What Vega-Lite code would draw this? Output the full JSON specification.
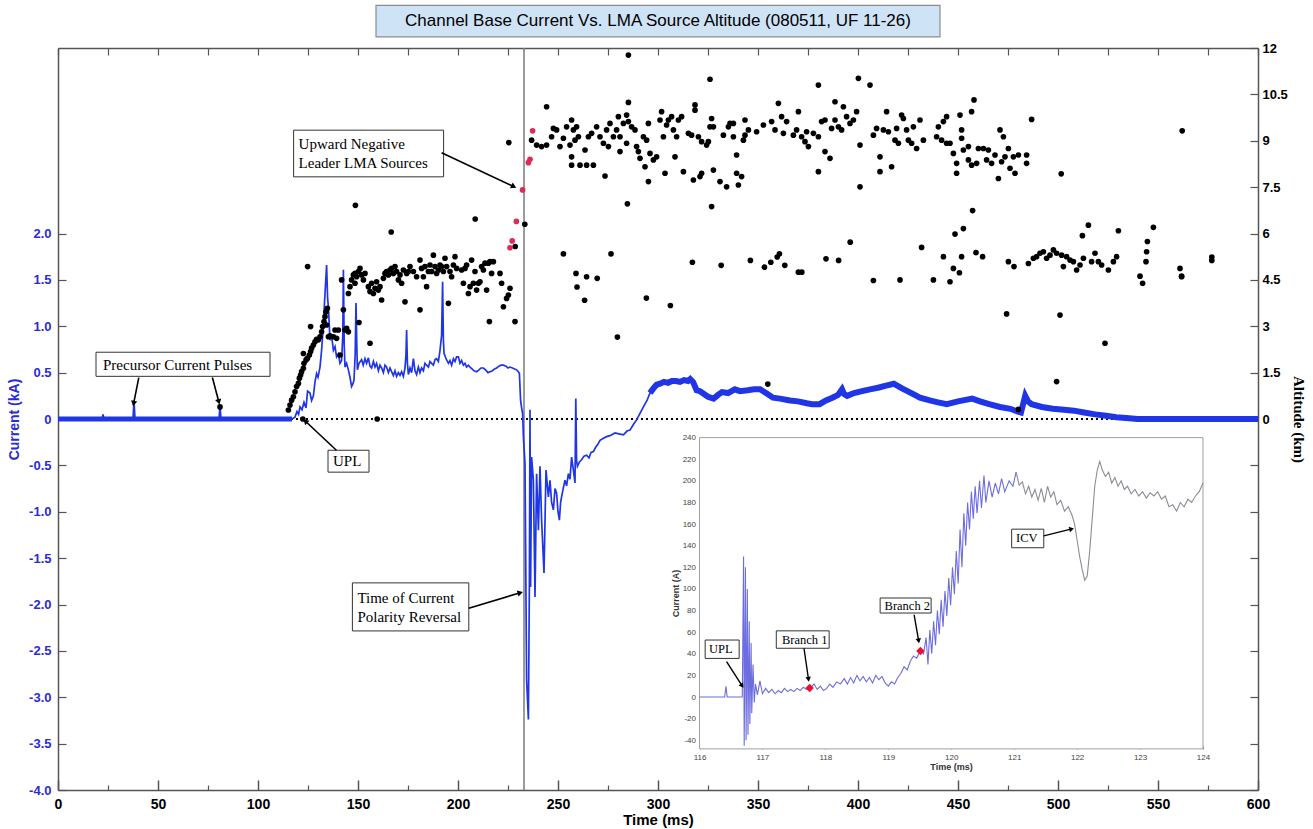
{
"$schema":"https://vega.github.io/schema/vega-lite/v6.json",
"width":1200,"height":742,
"autosize":{"type":"none"},
"padding":{"left":58,"top":48,"right":55,"bottom":39},
"background":"white",
"config":{"view":{"stroke":null},"axis":{"grid":false,"labelFlush":false}},
"datasets":{
"current":[
{"t":0,"i":0},{"t":22,"i":0},{"t":22.5,"i":0.05},{"t":23,"i":0},{"t":37.5,"i":0},{"t":38,"i":0.2},{"t":38.5,"i":0},{"t":80.5,"i":0},{"t":81,"i":0.14},{"t":81.5,"i":0},{"t":117,"i":0},
{"t":118.5,"i":0.02},{"t":119.5,"i":0.08},{"t":120.3,"i":0.05},{"t":121,"i":0.13},{"t":122,"i":0.1},{"t":123,"i":0.18},{"t":124,"i":0.12},{"t":124.8,"i":0.3},{"t":126,"i":0.28},{"t":126.8,"i":0.2},{"t":127.7,"i":0.25},{"t":128.5,"i":0.4},{"t":129.3,"i":0.49},{"t":130,"i":0.45},{"t":131,"i":0.56},{"t":131.8,"i":0.74},{"t":132.7,"i":1.03},{"t":133.5,"i":1.35},{"t":134.3,"i":1.66},{"t":134.8,"i":1.3},{"t":135.2,"i":1.21},{"t":136,"i":0.85},{"t":136.8,"i":0.9},{"t":137.7,"i":0.74},{"t":138.5,"i":0.78},{"t":139.3,"i":0.67},{"t":140.2,"i":0.7},{"t":141,"i":0.6},{"t":141.8,"i":0.63},{"t":142.4,"i":0.9},{"t":142.7,"i":1.61},{"t":143.1,"i":0.8},{"t":143.5,"i":0.56},{"t":144.3,"i":0.6},{"t":145.2,"i":0.53},{"t":146,"i":0.45},{"t":146.8,"i":0.35},{"t":147.5,"i":0.38},{"t":148,"i":0.42},{"t":148.6,"i":0.7},{"t":149,"i":1.25},{"t":149.4,"i":0.8},{"t":149.7,"i":0.53},{"t":150.5,"i":0.6},{"t":151.8,"i":0.64},{"t":152.6,"i":0.58},{"t":153.5,"i":0.65},{"t":154.3,"i":0.6},{"t":155.2,"i":0.66},{"t":156,"i":0.57},{"t":156.8,"i":0.55},{"t":157.7,"i":0.62},{"t":158.5,"i":0.56},{"t":159.3,"i":0.6},{"t":160.2,"i":0.52},{"t":161,"i":0.58},{"t":161.8,"i":0.55},{"t":162.7,"i":0.5},{"t":163.5,"i":0.58},{"t":164.3,"i":0.56},{"t":165.2,"i":0.5},{"t":166,"i":0.55},{"t":166.8,"i":0.51},{"t":167.7,"i":0.47},{"t":168.5,"i":0.52},{"t":169.3,"i":0.46},{"t":170.2,"i":0.5},{"t":171,"i":0.47},{"t":171.8,"i":0.51},{"t":172.7,"i":0.46},{"t":173.5,"i":0.55},{"t":174,"i":0.7},{"t":174.3,"i":0.96},{"t":174.7,"i":0.6},{"t":175.2,"i":0.48},{"t":176,"i":0.55},{"t":176.8,"i":0.5},{"t":177.7,"i":0.65},{"t":178.5,"i":0.52},{"t":179.3,"i":0.48},{"t":180.2,"i":0.56},{"t":181,"i":0.5},{"t":181.8,"i":0.55},{"t":182.7,"i":0.52},{"t":183.5,"i":0.6},{"t":184.3,"i":0.58},{"t":185.2,"i":0.56},{"t":186,"i":0.62},{"t":186.8,"i":0.6},{"t":187.7,"i":0.58},{"t":188.5,"i":0.64},{"t":189.3,"i":0.65},{"t":190.2,"i":0.62},{"t":191,"i":0.74},{"t":191.8,"i":0.9},{"t":192.3,"i":1.48},{"t":192.7,"i":0.85},{"t":193,"i":0.71},{"t":194,"i":0.65},{"t":195.2,"i":0.6},{"t":196,"i":0.63},{"t":196.8,"i":0.58},{"t":197.7,"i":0.65},{"t":198.5,"i":0.62},{"t":199.3,"i":0.67},{"t":200.2,"i":0.67},{"t":201,"i":0.6},{"t":201.8,"i":0.63},{"t":202.7,"i":0.58},{"t":203.5,"i":0.6},{"t":204.3,"i":0.56},{"t":205.2,"i":0.58},{"t":206,"i":0.56},{"t":207,"i":0.54},{"t":208,"i":0.52},{"t":209.3,"i":0.51},{"t":210.5,"i":0.53},{"t":211.5,"i":0.55},{"t":212.7,"i":0.55},{"t":213.8,"i":0.53},{"t":215,"i":0.5},{"t":216,"i":0.51},{"t":217.2,"i":0.52},{"t":218.3,"i":0.54},{"t":219.3,"i":0.55},{"t":220.5,"i":0.57},{"t":221.5,"i":0.58},{"t":222.7,"i":0.58},{"t":224,"i":0.57},{"t":225,"i":0.55},{"t":226,"i":0.56},{"t":227.2,"i":0.55},{"t":228.3,"i":0.54},{"t":229.3,"i":0.53},{"t":230.2,"i":0.51},{"t":230.7,"i":0.49},{"t":231.3,"i":0.2},{"t":231.8,"i":0.12},{"t":232.3,"i":0.06},{"t":232.7,"i":-0.19},{"t":233.5,"i":-0.48},{"t":234.3,"i":-2.81},{"t":235.2,"i":-3.24},{"t":235.7,"i":-1.74},{"t":236,"i":0.1},{"t":236.3,"i":-1.81},{"t":236.8,"i":-0.41},{"t":237.7,"i":-0.66},{"t":238.5,"i":-1.92},{"t":239.3,"i":-0.59},{"t":240.2,"i":-1.2},{"t":241,"i":-0.51},{"t":241.8,"i":-1.09},{"t":243,"i":-1.66},{"t":244,"i":-0.55},{"t":245.2,"i":-0.84},{"t":246,"i":-0.66},{"t":246.8,"i":-0.9},{"t":247.7,"i":-0.98},{"t":248.5,"i":-0.75},{"t":249.3,"i":-0.8},{"t":250,"i":-1.0},{"t":250.7,"i":-1.09},{"t":251.3,"i":-0.9},{"t":251.8,"i":-0.84},{"t":252.6,"i":-0.75},{"t":253.5,"i":-0.66},{"t":254.3,"i":-0.72},{"t":255.2,"i":-0.59},{"t":256,"i":-0.65},{"t":256.8,"i":-0.41},{"t":257.7,"i":-0.55},{"t":258.5,"i":-0.69},{"t":258.9,"i":0.22},{"t":259.3,"i":-0.45},{"t":259.7,"i":-0.51},{"t":260.8,"i":-0.46},{"t":261.8,"i":-0.44},{"t":263,"i":-0.4},{"t":264.3,"i":-0.39},{"t":265.5,"i":-0.42},{"t":266.5,"i":-0.36},{"t":267.7,"i":-0.35},{"t":269,"i":-0.3},{"t":270,"i":-0.27},{"t":271,"i":-0.23},{"t":272.5,"i":-0.21},{"t":274.3,"i":-0.19},{"t":276,"i":-0.18},{"t":278.5,"i":-0.15},{"t":280.5,"i":-0.16},{"t":282.7,"i":-0.17},{"t":284.5,"i":-0.13},{"t":286,"i":-0.12},{"t":287.7,"i":-0.06},{"t":289.3,"i":-0.01},{"t":291,"i":0.06},{"t":292.7,"i":0.13},{"t":294.5,"i":0.2},{"t":296,"i":0.28},{"t":297.7,"i":0.33},{"t":299.3,"i":0.37},{"t":301,"i":0.38},{"t":303,"i":0.4},{"t":305,"i":0.39},{"t":307,"i":0.41},{"t":309,"i":0.41},{"t":311,"i":0.4},{"t":313,"i":0.42},{"t":315,"i":0.41},{"t":316.1,"i":0.43},{"t":317.5,"i":0.4},{"t":319.3,"i":0.31},{"t":321,"i":0.3},{"t":323,"i":0.27},{"t":325,"i":0.24},{"t":327.8,"i":0.22},{"t":330,"i":0.26},{"t":332,"i":0.29},{"t":335,"i":0.28},{"t":338.4,"i":0.32},{"t":341,"i":0.3},{"t":344.8,"i":0.31},{"t":348,"i":0.32},{"t":351.1,"i":0.32},{"t":354,"i":0.28},{"t":357.5,"i":0.23},{"t":361,"i":0.22},{"t":366,"i":0.2},{"t":370,"i":0.19},{"t":374.4,"i":0.17},{"t":377,"i":0.16},{"t":380.8,"i":0.16},{"t":384,"i":0.2},{"t":387.2,"i":0.23},{"t":390,"i":0.26},{"t":392,"i":0.32},{"t":393,"i":0.27},{"t":394.6,"i":0.25},{"t":398,"i":0.28},{"t":402,"i":0.3},{"t":406,"i":0.32},{"t":410.5,"i":0.34},{"t":414,"i":0.36},{"t":417.9,"i":0.38},{"t":422,"i":0.33},{"t":427.4,"i":0.27},{"t":431,"i":0.23},{"t":435.9,"i":0.2},{"t":440,"i":0.18},{"t":444.4,"i":0.16},{"t":450,"i":0.19},{"t":457.1,"i":0.22},{"t":461,"i":0.19},{"t":465.6,"i":0.16},{"t":471,"i":0.13},{"t":476.2,"i":0.11},{"t":480,"i":0.08},{"t":481.5,"i":0.07},{"t":483.6,"i":0.25},{"t":485,"i":0.19},{"t":486.8,"i":0.16},{"t":492,"i":0.13},{"t":497.4,"i":0.11},{"t":503,"i":0.1},{"t":508,"i":0.09},{"t":513,"i":0.07},{"t":518.6,"i":0.05},{"t":524,"i":0.035},{"t":529.2,"i":0.02},{"t":534,"i":0.01},{"t":539.8,"i":0},{"t":600,"i":0}
],
"lma":[
{"t":81,"a":0.39},{"t":122.4,"a":0},{"t":159.6,"a":0},
{"t":115.2,"a":0.29},{"t":116,"a":0.45},{"t":116.8,"a":0.61},{"t":117.7,"a":0.72},{"t":118.5,"a":0.88},{"t":119.3,"a":1.05},{"t":120.2,"a":1.15},{"t":120.7,"a":1.32},{"t":121.3,"a":1.42},{"t":121.8,"a":1.53},{"t":122.7,"a":1.64},{"t":123,"a":1.8},{"t":124,"a":1.91},{"t":124.7,"a":1.96},{"t":125.7,"a":2.07},{"t":126.3,"a":2.18},{"t":126.8,"a":2.29},{"t":127.7,"a":2.39},{"t":128.5,"a":2.5},{"t":129.3,"a":2.58},{"t":130.2,"a":2.56},{"t":131,"a":2.66},{"t":131.8,"a":2.82},{"t":132.3,"a":2.99},{"t":133,"a":3.15},{"t":133.5,"a":3.31},{"t":134,"a":3.47},{"t":134.7,"a":3.58},{"t":122.7,"a":2.12},{"t":126.3,"a":2.99},{"t":124.8,"a":4.93},{"t":134.3,"a":3.04},{"t":135.2,"a":2.66},{"t":136,"a":2.69},{"t":137.7,"a":2.66},{"t":139.3,"a":2.61},{"t":138.5,"a":2.88},{"t":140.2,"a":2.88},{"t":141,"a":2.07},{"t":141.8,"a":4.5},{"t":142.7,"a":3.53},{"t":143.5,"a":2.88},{"t":144.3,"a":2.93},{"t":145.2,"a":2.82},{"t":146,"a":4.28},{"t":145.2,"a":4.06},{"t":146.8,"a":4.5},{"t":147.7,"a":4.66},{"t":148.5,"a":4.71},{"t":149.3,"a":4.6},{"t":150.2,"a":4.77},{"t":151,"a":4.87},{"t":151.8,"a":4.66},{"t":152.7,"a":4.5},{"t":148.5,"a":4.39},{"t":150.5,"a":3.12},{"t":156,"a":2.45},{"t":153.5,"a":4.71},{"t":155.2,"a":4.28},{"t":156,"a":4.12},{"t":156.8,"a":4.39},{"t":157.7,"a":4.06},{"t":158.5,"a":4.23},{"t":159.3,"a":4.44},{"t":160.2,"a":4.17},{"t":161,"a":4.28},{"t":161.8,"a":3.85},{"t":162.7,"a":4.55},{"t":163.5,"a":4.71},{"t":164.3,"a":4.77},{"t":165.2,"a":4.66},{"t":166,"a":4.82},{"t":166.8,"a":4.87},{"t":167.7,"a":4.71},{"t":168.5,"a":4.93},{"t":169.3,"a":4.77},{"t":170.2,"a":4.5},{"t":171,"a":4.66},{"t":171.8,"a":4.39},{"t":172.7,"a":4.82},{"t":173.5,"a":3.79},{"t":174.3,"a":4.71},{"t":175.2,"a":4.77},{"t":176,"a":4.93},{"t":177.7,"a":4.77},{"t":179.3,"a":4.6},{"t":181,"a":5.14},{"t":181,"a":3.53},{"t":181.8,"a":4.87},{"t":182.7,"a":4.6},{"t":183.5,"a":4.93},{"t":184.3,"a":4.28},{"t":185.2,"a":4.77},{"t":186,"a":4.98},{"t":186.8,"a":4.77},{"t":187.7,"a":5.3},{"t":188.5,"a":4.93},{"t":189.3,"a":4.71},{"t":190.2,"a":4.82},{"t":191,"a":4.98},{"t":191.8,"a":4.93},{"t":192.7,"a":4.77},{"t":193.5,"a":5.2},{"t":194.3,"a":4.93},{"t":195.2,"a":3.74},{"t":196,"a":4.77},{"t":196.8,"a":4.6},{"t":197.7,"a":4.98},{"t":198.5,"a":5.25},{"t":199.3,"a":4.87},{"t":201.8,"a":4.82},{"t":202.7,"a":4.39},{"t":203.5,"a":4.87},{"t":204.3,"a":4.98},{"t":205.2,"a":4.06},{"t":206,"a":4.28},{"t":206.8,"a":5.14},{"t":207.7,"a":4.39},{"t":208.5,"a":4.77},{"t":209.3,"a":4.17},{"t":210.2,"a":4.39},{"t":211,"a":4.44},{"t":211.8,"a":4.93},{"t":212.7,"a":4.82},{"t":213.5,"a":5.04},{"t":214.3,"a":4.17},{"t":215.2,"a":5.04},{"t":216,"a":5.09},{"t":215.7,"a":3.15},{"t":216.8,"a":4.71},{"t":217.7,"a":5.09},{"t":221,"a":4.71},{"t":221.8,"a":4.39},{"t":222.7,"a":3.63},{"t":224.3,"a":3.9},{"t":225.2,"a":4.01},{"t":226,"a":4.23},{"t":228.5,"a":3.15},
{"t":148.7,"a":6.91},{"t":166.6,"a":6.05},{"t":208.6,"a":6.47},{"t":225.4,"a":8.94},{"t":228.6,"a":5.58},{"t":233.4,"a":6.3},
{"t":252.7,"a":5.34},{"t":259,"a":4.71},{"t":259.5,"a":4.27},{"t":263.3,"a":3.84},{"t":264.3,"a":4.6},{"t":269.6,"a":4.55},{"t":276.5,"a":5.34},{"t":279.7,"a":2.65},{"t":284.7,"a":6.96},{"t":294.2,"a":3.91},
{"t":285.2,"a":11.77},{"t":244.3,"a":10.1},{"t":326,"a":10.99},{"t":285.2,"a":10.24},{"t":236.8,"a":9.02},{"t":239.3,"a":8.86},{"t":241.8,"a":8.81},{"t":244.3,"a":8.86},{"t":246.8,"a":9.13},{"t":247.7,"a":9.4},{"t":249.3,"a":9.35},{"t":251,"a":8.81},{"t":252.7,"a":9.08},{"t":254.3,"a":9.45},{"t":256.8,"a":9.67},{"t":257.7,"a":9.35},{"t":259.3,"a":9.45},{"t":260.2,"a":9.13},{"t":258.5,"a":9.02},{"t":256,"a":8.86},{"t":256.8,"a":8.48},{"t":256.8,"a":8.21},{"t":261,"a":8.21},{"t":264.3,"a":8.21},{"t":267.7,"a":8.21},{"t":263.5,"a":8.7},{"t":265.2,"a":9.13},{"t":266.8,"a":9.24},{"t":269.3,"a":9.45},{"t":271,"a":9.13},{"t":272.7,"a":8.92},{"t":273.5,"a":7.86},{"t":275.2,"a":8.81},{"t":274.3,"a":9.35},{"t":276,"a":9.56},{"t":277.7,"a":9.13},{"t":279.3,"a":9.35},{"t":280.2,"a":9.78},{"t":281,"a":9.13},{"t":281,"a":8.65},{"t":282.7,"a":9.56},{"t":284.3,"a":8.92},{"t":284.3,"a":9.83},{"t":285.2,"a":9.62},{"t":286.8,"a":9.45},{"t":288.5,"a":9.35},{"t":289.3,"a":8.81},{"t":290.2,"a":8.65},{"t":291,"a":8.43},{"t":292.7,"a":9.13},{"t":293.5,"a":8.16},{"t":294.3,"a":9.02},{"t":295.2,"a":7.68},{"t":295.2,"a":9.56},{"t":296,"a":8.59},{"t":297.7,"a":8.38},{"t":299.3,"a":8.48},{"t":301,"a":9.67},{"t":301.8,"a":9.94},{"t":302.7,"a":9.13},{"t":303.5,"a":7.95},{"t":304.3,"a":9.51},{"t":305.2,"a":9.67},{"t":306.8,"a":9.78},{"t":307.7,"a":9.35},{"t":308.5,"a":8.48},{"t":309.3,"a":9.13},{"t":310.2,"a":9.67},{"t":311.8,"a":9.78},{"t":312.7,"a":8},{"t":315.2,"a":9.24},{"t":316.8,"a":9.18},{"t":317.7,"a":7.73},{"t":318.5,"a":10.16},{"t":318.5,"a":9.99},{"t":320.2,"a":9.13},{"t":321,"a":7.84},{"t":321.8,"a":7.95},{"t":321.8,"a":8.97},{"t":324.3,"a":8.86},{"t":325.2,"a":8.97},{"t":326,"a":9.45},{"t":326.8,"a":9.72},{"t":327.7,"a":9.45},{"t":327.7,"a":8.05},{"t":326.8,"a":6.87},{"t":331,"a":7.68},{"t":332.7,"a":9.18},{"t":334.3,"a":7.51},{"t":335.2,"a":9.45},{"t":336,"a":9.56},{"t":337.7,"a":9.56},{"t":337.7,"a":9.13},{"t":339.3,"a":8.54},{"t":339.3,"a":7.95},{"t":340.2,"a":7.57},{"t":341.8,"a":7.84},{"t":342.7,"a":9.02},{"t":343.5,"a":9.18},{"t":343.5,"a":9.67},{"t":345.2,"a":9.35},{"t":349.3,"a":9.29},{"t":352.7,"a":9.51},{"t":356.8,"a":9.62},{"t":358.5,"a":9.35},{"t":360.2,"a":10.21},{"t":361.8,"a":9.78},{"t":362.7,"a":9.24},{"t":364.3,"a":9.62},
{"t":367.7,"a":9.18},{"t":370.2,"a":9.94},{"t":369.3,"a":9.35},{"t":371.8,"a":9.13},{"t":373.5,"a":8.97},{"t":375.2,"a":8.81},{"t":374.3,"a":9.29},{"t":377.7,"a":9.24},{"t":380.2,"a":10.8},{"t":380.2,"a":8},{"t":380.2,"a":9.13},{"t":381.8,"a":9.62},{"t":383.5,"a":9.67},{"t":383.5,"a":8.65},{"t":386,"a":8.43},{"t":386.8,"a":9.4},{"t":388.5,"a":10.26},{"t":388.5,"a":9.67},{"t":390.2,"a":9.45},{"t":391.8,"a":9.35},{"t":392.7,"a":10.1},{"t":394.3,"a":9.78},{"t":396,"a":9.56},{"t":397.7,"a":9.67},{"t":399.3,"a":9.94},{"t":400.2,"a":11.02},{"t":401,"a":8.86},{"t":401,"a":7.51},{"t":406,"a":10.8},{"t":407.7,"a":9.18},{"t":409.3,"a":9.4},{"t":411,"a":8.48},{"t":411,"a":8},{"t":412.7,"a":9.35},{"t":414.3,"a":9.94},{"t":415.2,"a":9.29},{"t":416.8,"a":8.16},{"t":418.5,"a":9.02},{"t":419.3,"a":9.4},{"t":420.2,"a":8.92},{"t":421.8,"a":9.83},{"t":422.7,"a":9.72},{"t":424.3,"a":9.35},{"t":425.2,"a":9.02},{"t":426.8,"a":8.92},{"t":427.7,"a":9.45},{"t":429.3,"a":8.75},{"t":431,"a":9.67},{"t":432.7,"a":9.02},{"t":439.3,"a":9.13},{"t":440.2,"a":9.45},{"t":441.8,"a":9.02},{"t":442.7,"a":9.62},{"t":444.3,"a":9.78},{"t":444.3,"a":8.92},{"t":446,"a":8.92},{"t":447.7,"a":8.59},{"t":449.3,"a":7.95},{"t":449.3,"a":8.27},{"t":451,"a":9.83},{"t":451.8,"a":9.35},{"t":451.8,"a":9.08},{"t":452.7,"a":8.7},{"t":455.2,"a":8.81},{"t":455.2,"a":8.38},{"t":456.8,"a":9.94},{"t":458,"a":10.32},{"t":456.8,"a":8.21},{"t":459.3,"a":8.27},{"t":460.2,"a":8.75},{"t":462.7,"a":8.75},{"t":464.3,"a":8.38},{"t":465.2,"a":8.7},{"t":466.8,"a":8.27},{"t":468.5,"a":8.54},{"t":470.2,"a":7.78},{"t":471,"a":9.35},{"t":471.8,"a":8.32},{"t":472.7,"a":9.13},{"t":473.5,"a":8.48},{"t":475.2,"a":8.75},{"t":476,"a":8.11},{"t":477.7,"a":8.48},{"t":478.5,"a":7.95},{"t":480.2,"a":8.54},{"t":484.3,"a":8.54},{"t":484.3,"a":8.27},{"t":486.8,"a":9.69},
{"t":306.2,"a":3.67},{"t":317.2,"a":5.07},{"t":331.6,"a":4.97},{"t":346.2,"a":5.13},{"t":353.2,"a":4.91},{"t":356.4,"a":5.07},{"t":359.6,"a":5.24},{"t":360.7,"a":5.34},{"t":363.4,"a":4.97},{"t":370.2,"a":4.75},{"t":371.9,"a":4.75},{"t":384,"a":5.18},{"t":390.3,"a":5.13},{"t":396.1,"a":5.72},{"t":407.7,"a":4.48},{"t":354.9,"a":1.13},{"t":501.6,"a":7.93},{"t":562.1,"a":9.32},{"t":576.9,"a":5.24},{"t":576.9,"a":5.13},
{"t":421,"a":4.5},{"t":431.8,"a":5.55},{"t":437.7,"a":4.5},{"t":442.7,"a":5.25},{"t":446,"a":4.44},{"t":447.7,"a":4.87},{"t":448.5,"a":5.98},{"t":450.7,"a":4.73},{"t":451.8,"a":5.25},{"t":452.7,"a":6.16},{"t":457.3,"a":6.74},{"t":459,"a":5.38},{"t":462.3,"a":5.25},{"t":474.3,"a":3.4},{"t":475.2,"a":5.09},{"t":478,"a":4.93},{"t":480.2,"a":0.31},{"t":485.2,"a":5.03},{"t":487.7,"a":5.2},{"t":489.3,"a":5.25},{"t":491,"a":5.36},{"t":492.7,"a":5.41},{"t":494.3,"a":5.2},{"t":496,"a":5.3},{"t":497.7,"a":5.47},{"t":499.3,"a":5.36},{"t":499.3,"a":1.21},{"t":501,"a":3.36},{"t":501.8,"a":5.3},{"t":502.7,"a":4.93},{"t":504.3,"a":5.25},{"t":506,"a":5.14},{"t":507.7,"a":5.09},{"t":509.3,"a":4.82},{"t":511,"a":4.98},{"t":512.7,"a":5.2},{"t":512.2,"a":5.93},{"t":515.2,"a":6.27},{"t":516.8,"a":5.09},{"t":518.5,"a":5.36},{"t":520.2,"a":5.09},{"t":521.8,"a":4.98},{"t":523.5,"a":2.45},{"t":525.2,"a":4.82},{"t":527.7,"a":5.09},{"t":529.3,"a":5.25},{"t":530.2,"a":6.09},{"t":541,"a":4.62},{"t":542.3,"a":4.39},{"t":544,"a":5.09},{"t":544.3,"a":5.41},{"t":544.7,"a":5.74},{"t":547.7,"a":6.2},{"t":561,"a":4.87},{"t":561.8,"a":4.6},{"t":561.8,"a":4.62}
],
"lma_red":[
{"t":226,"a":5.54},{"t":227.1,"a":5.76},{"t":229.2,"a":6.39},{"t":232.3,"a":7.41},{"t":235.2,"a":8.29},{"t":236,"a":8.4},{"t":237.3,"a":9.32}
],
"inset":[
{"t":116,"i":0},{"t":116.4,"i":0},{"t":116.42,"i":10},{"t":116.44,"i":0},{"t":116.68,"i":0},{"t":116.7,"i":130},{"t":116.71,"i":-45},{"t":116.73,"i":120},{"t":116.74,"i":-40},{"t":116.76,"i":100},{"t":116.77,"i":-35},{"t":116.79,"i":70},{"t":116.8,"i":-25},{"t":116.82,"i":50},{"t":116.83,"i":-15},{"t":116.85,"i":30},{"t":116.87,"i":-5},{"t":116.89,"i":12},{"t":116.92,"i":2},{"t":116.96,"i":15},{"t":117,"i":3},{"t":117.05,"i":8},{"t":117.1,"i":4},{"t":117.15,"i":7},{"t":117.2,"i":3},{"t":117.25,"i":6},{"t":117.3,"i":4},{"t":117.35,"i":8},{"t":117.4,"i":5},{"t":117.45,"i":7},{"t":117.5,"i":5},{"t":117.55,"i":8},{"t":117.6,"i":6},{"t":117.65,"i":9},{"t":117.7,"i":7},{"t":117.76,"i":8},{"t":117.82,"i":12},{"t":117.87,"i":7},{"t":117.92,"i":10},{"t":117.97,"i":6},{"t":118.02,"i":8},{"t":118.07,"i":12},{"t":118.12,"i":9},{"t":118.18,"i":14},{"t":118.24,"i":12},{"t":118.3,"i":17},{"t":118.35,"i":12},{"t":118.4,"i":18},{"t":118.45,"i":13},{"t":118.5,"i":20},{"t":118.55,"i":15},{"t":118.6,"i":19},{"t":118.65,"i":14},{"t":118.7,"i":18},{"t":118.75,"i":13},{"t":118.8,"i":20},{"t":118.85,"i":16},{"t":118.9,"i":19},{"t":118.95,"i":13},{"t":119,"i":10},{"t":119.05,"i":14},{"t":119.1,"i":12},{"t":119.15,"i":18},{"t":119.2,"i":22},{"t":119.25,"i":28},{"t":119.3,"i":25},{"t":119.35,"i":33},{"t":119.4,"i":38},{"t":119.45,"i":36},{"t":119.51,"i":43},{"t":119.56,"i":40},{"t":119.6,"i":55},{"t":119.63,"i":30},{"t":119.66,"i":62},{"t":119.69,"i":40},{"t":119.72,"i":70},{"t":119.75,"i":48},{"t":119.78,"i":80},{"t":119.81,"i":58},{"t":119.84,"i":90},{"t":119.87,"i":65},{"t":119.9,"i":98},{"t":119.93,"i":75},{"t":119.96,"i":110},{"t":119.99,"i":85},{"t":120.02,"i":120},{"t":120.05,"i":95},{"t":120.08,"i":135},{"t":120.11,"i":105},{"t":120.14,"i":155},{"t":120.17,"i":120},{"t":120.2,"i":170},{"t":120.23,"i":140},{"t":120.26,"i":180},{"t":120.29,"i":155},{"t":120.32,"i":190},{"t":120.35,"i":165},{"t":120.38,"i":195},{"t":120.41,"i":170},{"t":120.45,"i":200},{"t":120.48,"i":175},{"t":120.52,"i":205},{"t":120.55,"i":180},{"t":120.6,"i":200},{"t":120.65,"i":185},{"t":120.7,"i":198},{"t":120.75,"i":188},{"t":120.8,"i":202},{"t":120.85,"i":190},{"t":120.92,"i":200},{"t":120.98,"i":195},{"t":121.03,"i":208},{"t":121.08,"i":196},{"t":121.13,"i":199},{"t":121.18,"i":188},{"t":121.23,"i":195},{"t":121.28,"i":185},{"t":121.33,"i":192},{"t":121.38,"i":182},{"t":121.43,"i":193},{"t":121.48,"i":180},{"t":121.53,"i":195},{"t":121.58,"i":185},{"t":121.63,"i":190},{"t":121.68,"i":178},{"t":121.74,"i":182},{"t":121.8,"i":172},{"t":121.86,"i":176},{"t":121.92,"i":168},{"t":121.96,"i":160},{"t":122,"i":145},{"t":122.04,"i":130},{"t":122.08,"i":118},{"t":122.12,"i":108},{"t":122.16,"i":112},{"t":122.2,"i":135},{"t":122.24,"i":165},{"t":122.28,"i":195},{"t":122.32,"i":210},{"t":122.36,"i":218},{"t":122.4,"i":210},{"t":122.45,"i":204},{"t":122.5,"i":208},{"t":122.55,"i":198},{"t":122.6,"i":203},{"t":122.65,"i":195},{"t":122.7,"i":200},{"t":122.75,"i":192},{"t":122.8,"i":195},{"t":122.86,"i":188},{"t":122.92,"i":192},{"t":122.98,"i":186},{"t":123.04,"i":190},{"t":123.1,"i":184},{"t":123.16,"i":189},{"t":123.22,"i":186},{"t":123.28,"i":190},{"t":123.34,"i":183},{"t":123.4,"i":186},{"t":123.46,"i":176},{"t":123.52,"i":178},{"t":123.58,"i":172},{"t":123.64,"i":180},{"t":123.7,"i":176},{"t":123.76,"i":183},{"t":123.82,"i":180},{"t":123.88,"i":186},{"t":123.94,"i":190},{"t":124,"i":198}
],
"inset_marks":[{"label":"Branch 1","t":117.75,"i":8.3},{"label":"Branch 2","t":119.51,"i":42.6}],
"boxes":[{"t0":19,"t1":106,"i0":0.46,"i1":0.72},{"t0":117.8,"t1":192.8,"i0":2.611,"i1":3.114},{"t0":135,"t1":155.5,"i0":-0.573,"i1":-0.337},{"t0":147.2,"t1":205.4,"i0":-2.285,"i1":-1.767}],
"texts":[{"label":"Precursor Current Pulses","t":22.5,"i":0.584},{"label":"Upward Negative","t":120.3,"i":2.97},{"label":"Leader LMA Sources","t":120.3,"i":2.756},{"label":"UPL","t":137.5,"i":-0.457},{"label":"Time of Current","t":149.7,"i":-1.93},{"label":"Polarity Reversal","t":149.7,"i":-2.14}],
"arrows":[{"t0":40.4,"i0":0.447,"t1":37.9,"i1":0.176,"dir":-168.6},{"t0":77.2,"i0":0.447,"t1":80.3,"i1":0.194,"dir":165.1},{"t0":191.8,"i0":2.871,"t1":227.5,"i1":2.51,"dir":115.1},{"t0":139.2,"i0":-0.337,"t1":124,"i1":-0.03,"dir":-47.1},{"t0":205.4,"i0":-2.04,"t1":230.7,"i1":-1.876,"dir":73.4}],
"inset_boxes":[{"t0":116.09,"t1":116.63,"i0":35.7,"i1":52.7},{"t0":117.22,"t1":118.06,"i0":45.1,"i1":61.2},{"t0":118.87,"t1":119.68,"i0":77.7,"i1":91.6},{"t0":120.96,"t1":121.47,"i0":138.1,"i1":155.3}],
"inset_texts":[{"label":"UPL","t":116.15,"i":44},{"label":"Branch 1","t":117.31,"i":53.1},{"label":"Branch 2","t":118.94,"i":84.6},{"label":"ICV","t":121.03,"i":146.7}],
"inset_arrows":[{"t0":116.43,"i0":32.7,"t1":116.67,"i1":10.9,"dir":145.6},{"t0":117.66,"i0":45.1,"t1":117.73,"i1":17.1,"dir":172.1},{"t0":119.41,"i0":76.1,"t1":119.48,"i1":52.7,"dir":170.5},{"t0":121.47,"i0":149.1,"t1":121.9,"i1":155.3,"dir":76.4}]
},
"resolve":{"scale":{"x":"independent","y":"independent"},"axis":{"x":"independent","y":"independent"}},
"layer":[
{"data":{"values":[{"title":"Channel Base Current Vs. LMA Source Altitude (080511, UF 11-26)"}]},
 "mark":{"type":"rect","fill":"#cfe3f6","stroke":"#8c8c8c","strokeWidth":1.2,"clip":false},
 "encoding":{"x":{"datum":159,"type":"quantitative","scale":{"domain":[0,600],"nice":false,"zero":false},"axis":null},"x2":{"datum":441},
  "y":{"datum":4.12,"type":"quantitative","scale":{"domain":[-4,4],"nice":false,"zero":false},"axis":null},"y2":{"datum":4.46}}},
{"data":{"values":[{"title":"Channel Base Current Vs. LMA Source Altitude (080511, UF 11-26)"}]},
 "mark":{"type":"text","font":"Liberation Sans","fontSize":17,"color":"black","baseline":"middle","align":"center","clip":false},
 "encoding":{"x":{"datum":300,"type":"quantitative","scale":{"domain":[0,600],"nice":false,"zero":false},"axis":null},
  "y":{"datum":4.29,"type":"quantitative","scale":{"domain":[-4,4],"nice":false,"zero":false},"axis":null},"text":{"field":"title"}}},
{"data":{"values":[{"t":233}]},
 "mark":{"type":"rule","color":"#7a7a7a","strokeWidth":1.5},
 "encoding":{"x":{"field":"t","type":"quantitative","scale":{"domain":[0,600],"nice":false,"zero":false},"axis":null}}},
{"data":{"values":[{"i":0}]},
 "mark":{"type":"rule","color":"black","strokeWidth":2.2,"strokeDash":[2,3]},
 "encoding":{"y":{"field":"i","type":"quantitative","scale":{"domain":[-4,4],"nice":false,"zero":false},"axis":null}}},
{"data":{"name":"current"},
 "mark":{"type":"line","color":"#1f35e6","strokeWidth":1.7},
 "encoding":{
  "x":{"field":"t","type":"quantitative","scale":{"domain":[0,600],"nice":false,"zero":false},
   "axis":{"orient":"bottom","values":[0,50,100,150,200,250,300,350,400,450,500,550,600],"tickSize":-10,"tickColor":"#555","tickWidth":1.5,"domainColor":"#555","domainWidth":1.5,"labelFont":"Liberation Sans Narrow, Liberation Sans","labelFontSize":14,"labelFontWeight":"bold","labelColor":"black","labelPadding":17,"title":"Time (ms)","titleFont":"Liberation Sans Narrow, Liberation Sans","titleFontSize":15,"titleFontWeight":"bold","titleColor":"black","titlePadding":1}},
  "y":{"field":"i","type":"quantitative","scale":{"domain":[-4,4],"nice":false,"zero":false},
   "axis":{"orient":"left","values":[-4,-3.5,-3,-2.5,-2,-1.5,-1,-0.5,0,0.5,1,1.5,2],"labelExpr":"datum.value == 0 ? '0' : replace(format(datum.value, '.1f'), '\u2212', '-')","tickSize":-8,"tickColor":"#555","tickWidth":1.2,"domainColor":"#555","domainWidth":1.5,"labelFont":"Liberation Sans Narrow, Liberation Sans","labelFontSize":13,"labelFontWeight":"bold","labelColor":"#2b2bd6","labelPadding":15,"title":"Current (kA)","titleFont":"Liberation Sans","titleFontSize":14,"titleFontWeight":"bold","titleColor":"#2b2bd6","titlePadding":7}}}},
{"data":{"name":"current"},
 "transform":[{"filter":"datum.t <= 117 && datum.i == 0"}],
 "mark":{"type":"line","color":"#1f35e6","strokeWidth":5},
 "encoding":{"x":{"field":"t","type":"quantitative","scale":{"domain":[0,600],"nice":false,"zero":false},"axis":null},
  "y":{"field":"i","type":"quantitative","scale":{"domain":[-4,4],"nice":false,"zero":false},"axis":null}}},
{"data":{"name":"current"},
 "transform":[{"filter":"datum.t >= 296"}],
 "mark":{"type":"line","color":"#1f35e6","strokeWidth":6},
 "encoding":{"x":{"field":"t","type":"quantitative","scale":{"domain":[0,600],"nice":false,"zero":false},"axis":null},
  "y":{"field":"i","type":"quantitative","scale":{"domain":[-4,4],"nice":false,"zero":false},"axis":null}}},
{"data":{"name":"lma"},
 "mark":{"type":"circle","color":"black","size":32,"opacity":1},
 "encoding":{
  "x":{"field":"t","type":"quantitative","scale":{"domain":[0,600],"nice":false,"zero":false},
   "axis":{"orient":"top","values":[0,25,50,75,100,125,150,175,200,225,250,275,300,325,350,375,400,425,450,475,500,525,550,575,600],"tickSize":-7,"tickColor":"#555","tickWidth":1.2,"domainColor":"#555","domainWidth":1.5,"labels":false,"title":null}},
  "y":{"field":"a","type":"quantitative","scale":{"domain":[-12,12],"nice":false,"zero":false},
   "axis":{"orient":"right","values":[-12,-10.5,-9,-7.5,-6,-4.5,-3,-1.5,0,1.5,3,4.5,6,7.5,9,10.5,12],"labelExpr":"datum.value < 0 ? '' : format(datum.value, '~g')","tickSize":-8,"tickColor":"#555","tickWidth":1.2,"domainColor":"#555","domainWidth":1.5,"labelFont":"Liberation Sans Narrow, Liberation Sans","labelFontSize":13,"labelFontWeight":"bold","labelColor":"black","labelPadding":12,"title":"Altitude (km)","titleFont":"Liberation Serif","titleFontSize":15,"titleFontWeight":"bold","titleColor":"black","titlePadding":3}}}},
{"data":{"name":"lma_red"},
 "mark":{"type":"circle","color":"#e02a55","size":32,"opacity":1},
 "encoding":{
  "x":{"field":"t","type":"quantitative","scale":{"domain":[0,600],"nice":false,"zero":false},
   "axis":{"orient":"bottom","values":[25,75,125,175,225,275,325,375,425,475,525,575],"tickSize":-5,"tickColor":"#555","tickWidth":1.2,"domain":false,"labels":false,"title":null}},
  "y":{"field":"a","type":"quantitative","scale":{"domain":[-12,12],"nice":false,"zero":false},"axis":null}}},
{"data":{"values":[{"frame":"inset"}]},
 "mark":{"type":"rect","fill":"white","stroke":"#a0a0a0","strokeWidth":1},
 "encoding":{"x":{"datum":116,"type":"quantitative","scale":{"domain":[105.807,124.874],"nice":false,"zero":false},"axis":null},"x2":{"datum":124},
  "y":{"datum":-48,"type":"quantitative","scale":{"domain":[-86.05,600.5],"nice":false,"zero":false},"axis":null},"y2":{"datum":240}}},
{"data":{"name":"inset"},
 "transform":[{"filter":"datum.t <= 121.05"}],
 "mark":{"type":"line","color":"#6d6ddf","strokeWidth":1.1},
 "encoding":{
  "x":{"field":"t","type":"quantitative","scale":{"domain":[105.807,124.874],"nice":false,"zero":false},
   "axis":{"orient":"bottom","offset":-41,"values":[116,117,118,119,120,121,122,123,124],"domain":false,"tickSize":-3,"tickColor":"#888","labelFont":"Liberation Sans","labelFontSize":8,"labelColor":"#444","labelPadding":7,"title":"Time (ms)","titleFont":"Liberation Sans","titleFontSize":9,"titleFontWeight":"bold","titleColor":"#333","titlePadding":1,"titleX":893}},
  "y":{"field":"i","type":"quantitative","scale":{"domain":[-86.05,600.5],"nice":false,"zero":false},
   "axis":{"orient":"left","offset":-641.5,"values":[-40,-20,0,20,40,60,80,100,120,140,160,180,200,220,240],"labelExpr":"replace(format(datum.value, 'd'), '\u2212', '-')","domain":false,"tickSize":-3,"tickColor":"#888","labelFont":"Liberation Sans","labelFontSize":8,"labelColor":"#444","labelPadding":7,"title":"Current (A)","titleFont":"Liberation Sans","titleFontSize":9,"titleColor":"#333","titlePadding":2,"titleY":545}}}},
{"data":{"name":"inset"},
 "transform":[{"filter":"datum.t >= 121"}],
 "mark":{"type":"line","color":"#8c8c96","strokeWidth":1.1},
 "encoding":{"x":{"field":"t","type":"quantitative","scale":{"domain":[105.807,124.874],"nice":false,"zero":false},"axis":null},
  "y":{"field":"i","type":"quantitative","scale":{"domain":[-86.05,600.5],"nice":false,"zero":false},"axis":null}}},
{"data":{"name":"inset_marks"},
 "mark":{"type":"point","shape":"diamond","filled":true,"color":"#e8102a","size":70,"opacity":1},
 "encoding":{"x":{"field":"t","type":"quantitative","scale":{"domain":[105.807,124.874],"nice":false,"zero":false},"axis":null},
  "y":{"field":"i","type":"quantitative","scale":{"domain":[-86.05,600.5],"nice":false,"zero":false},"axis":null}}},
{"data":{"name":"boxes"},
 "mark":{"type":"rect","fill":"white","stroke":"#333","strokeWidth":1},
 "encoding":{"x":{"field":"t0","type":"quantitative","scale":{"domain":[0,600],"nice":false,"zero":false},"axis":null},"x2":{"field":"t1"},
  "y":{"field":"i0","type":"quantitative","scale":{"domain":[-4,4],"nice":false,"zero":false},"axis":null},"y2":{"field":"i1"}}},
{"data":{"name":"texts"},
 "mark":{"type":"text","font":"Liberation Serif","fontSize":15,"color":"black","align":"left","baseline":"middle"},
 "encoding":{"x":{"field":"t","type":"quantitative","scale":{"domain":[0,600],"nice":false,"zero":false},"axis":null},
  "y":{"field":"i","type":"quantitative","scale":{"domain":[-4,4],"nice":false,"zero":false},"axis":null},"text":{"field":"label"}}},
{"data":{"name":"arrows"},
 "mark":{"type":"rule","color":"black","strokeWidth":1.6},
 "encoding":{"x":{"field":"t0","type":"quantitative","scale":{"domain":[0,600],"nice":false,"zero":false},"axis":null},"x2":{"field":"t1"},
  "y":{"field":"i0","type":"quantitative","scale":{"domain":[-4,4],"nice":false,"zero":false},"axis":null},"y2":{"field":"i1"}}},
{"data":{"name":"arrows"},
 "mark":{"type":"point","shape":"triangle","filled":true,"color":"black","size":40,"opacity":1},
 "encoding":{"x":{"field":"t1","type":"quantitative","scale":{"domain":[0,600],"nice":false,"zero":false},"axis":null},
  "y":{"field":"i1","type":"quantitative","scale":{"domain":[-4,4],"nice":false,"zero":false},"axis":null},
  "angle":{"field":"dir","type":"quantitative","scale":null}}},
{"data":{"name":"inset_boxes"},
 "mark":{"type":"rect","fill":"white","stroke":"#333","strokeWidth":1},
 "encoding":{"x":{"field":"t0","type":"quantitative","scale":{"domain":[105.807,124.874],"nice":false,"zero":false},"axis":null},"x2":{"field":"t1"},
  "y":{"field":"i0","type":"quantitative","scale":{"domain":[-86.05,600.5],"nice":false,"zero":false},"axis":null},"y2":{"field":"i1"}}},
{"data":{"name":"inset_texts"},
 "mark":{"type":"text","font":"Liberation Serif","fontSize":12.5,"color":"black","align":"left","baseline":"middle"},
 "encoding":{"x":{"field":"t","type":"quantitative","scale":{"domain":[105.807,124.874],"nice":false,"zero":false},"axis":null},
  "y":{"field":"i","type":"quantitative","scale":{"domain":[-86.05,600.5],"nice":false,"zero":false},"axis":null},"text":{"field":"label"}}},
{"data":{"name":"inset_arrows"},
 "mark":{"type":"rule","color":"black","strokeWidth":1.4},
 "encoding":{"x":{"field":"t0","type":"quantitative","scale":{"domain":[105.807,124.874],"nice":false,"zero":false},"axis":null},"x2":{"field":"t1"},
  "y":{"field":"i0","type":"quantitative","scale":{"domain":[-86.05,600.5],"nice":false,"zero":false},"axis":null},"y2":{"field":"i1"}}},
{"data":{"name":"inset_arrows"},
 "mark":{"type":"point","shape":"triangle","filled":true,"color":"black","size":30,"opacity":1},
 "encoding":{"x":{"field":"t1","type":"quantitative","scale":{"domain":[105.807,124.874],"nice":false,"zero":false},"axis":null},
  "y":{"field":"i1","type":"quantitative","scale":{"domain":[-86.05,600.5],"nice":false,"zero":false},"axis":null},
  "angle":{"field":"dir","type":"quantitative","scale":null}}}
]
}
